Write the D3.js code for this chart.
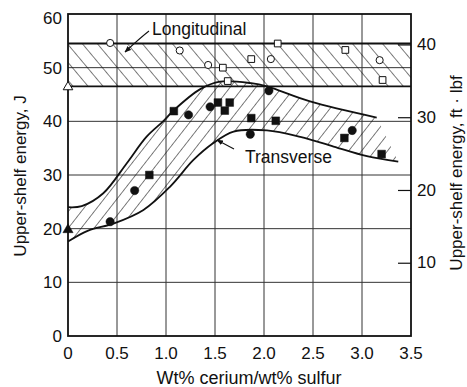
<!DOCTYPE html>
<html>
<head>
<meta charset="utf-8">
<script src="https://cdn.jsdelivr.net/npm/d3@7"></script>
<style>
  body { margin: 0; background: #fff; }
  text { font-family: "Liberation Sans", Arial, sans-serif; fill: #111; }
</style>
</head>
<body>
<div id="vis"></div>
<script>
// frame
const FRAME_WIDTH = 467;
const FRAME_HEIGHT = 387;
const MARGINS = {left: 68, right: 56, top: 14, bottom: 51};

// ticks
const xTicks = [0, 0.5, 1.0, 1.5, 2.0, 2.5, 3.0, 3.5];
const yTicks = [0, 10, 20, 30, 40, 50, 60];
const ftTicks = [10, 20, 30, 40];
const J_PER_FTLBF = 1.3558;

// longitudinal band (J)
const longBand = [46.5, 54.5];

// transverse band edges
const upperX = [0, 0.14, 0.36, 0.6, 0.8, 0.97, 1.07, 1.35, 1.55, 1.87, 2.03, 2.47, 3.15];
const upperJ = [24.0, 24.2, 26.6, 32.2, 37.1, 40.0, 41.9, 46.0, 47.4, 47.1, 46.5, 43.7, 40.7];
const lowerX = [0, 0.2, 0.47, 0.77, 1.04, 1.28, 1.48, 1.69, 2.03, 2.37, 2.71, 3.05, 3.37];
const lowerJ = [17.6, 19.6, 21.0, 23.5, 27.8, 32.8, 35.9, 38.1, 38.3, 37.1, 35.3, 33.5, 32.5];

// longitudinal data (open symbols)
const longCircleX = [0.43, 1.14, 1.43, 2.07, 3.18];
const longCircleJ = [54.6, 53.2, 50.5, 51.6, 51.4];
const longSquareX = [1.58, 1.63, 1.87, 2.14, 2.83, 3.21];
const longSquareJ = [50.0, 47.5, 51.6, 54.5, 53.3, 47.7];
const longTriX = [0];
const longTriJ = [46.4];

// transverse data (filled symbols)
const transCircleX = [0.43, 0.68, 1.23, 1.45, 1.86, 2.05, 2.90];
const transCircleJ = [21.3, 27.1, 41.2, 42.7, 37.6, 45.7, 38.3];
const transSquareX = [0.83, 1.08, 1.53, 1.60, 1.65, 1.87, 2.12, 2.82, 3.20];
const transSquareJ = [30.0, 41.9, 43.5, 42.0, 43.5, 40.6, 40.1, 36.9, 33.9];
const transTriX = [0];
const transTriJ = [19.8];

const zip = (xs, ys) => xs.map((v, i) => ({x: v, y: ys[i]}));

const svg = d3.select("#vis")
  .append("svg")
    .attr("width", FRAME_WIDTH)
    .attr("height", FRAME_HEIGHT);

const xScale = d3.scaleLinear()
  .domain([0, 3.5])
  .range([MARGINS.left, FRAME_WIDTH - MARGINS.right]);

const yScale = d3.scaleLinear()
  .domain([0, 60])
  .range([FRAME_HEIGHT - MARGINS.bottom, MARGINS.top]);

const yFt = d3.scaleLinear()
  .domain([0, 60 / J_PER_FTLBF])
  .range([FRAME_HEIGHT - MARGINS.bottom, MARGINS.top]);

const x0 = xScale(0), x1 = xScale(3.5);
const yb = yScale(0), yt = yScale(60);

// hatch patterns
const defs = svg.append("defs");
function hatch(id, spacing, angle) {
  const p = defs.append("pattern")
    .attr("id", id)
    .attr("patternUnits", "userSpaceOnUse")
    .attr("width", spacing)
    .attr("height", spacing)
    .attr("patternTransform", `rotate(${angle})`);
  p.append("line")
    .attr("x1", 0).attr("y1", -1)
    .attr("x2", 0).attr("y2", spacing + 1)
    .attr("stroke", "#111")
    .attr("stroke-width", 1.1);
}
hatch("hatchLong", 11.5, -40);
hatch("hatchTrans", 10.2, 38);

defs.append("marker")
  .attr("id", "arrow")
  .attr("viewBox", "0 0 10 10")
  .attr("refX", 9).attr("refY", 5)
  .attr("markerWidth", 6).attr("markerHeight", 6)
  .attr("orient", "auto")
  .append("path")
    .attr("d", "M0,1 L10,5 L0,9 Z")
    .attr("fill", "#111");

// gridlines
svg.append("g")
  .selectAll("line")
  .data(xTicks.slice(1, -1))
  .enter().append("line")
    .attr("x1", d => xScale(d)).attr("x2", d => xScale(d))
    .attr("y1", yb).attr("y2", yt)
    .attr("stroke", "#333").attr("stroke-width", 1);

svg.append("g")
  .selectAll("line")
  .data(yTicks.slice(1, -1))
  .enter().append("line")
    .attr("x1", x0).attr("x2", x1)
    .attr("y1", d => yScale(d)).attr("y2", d => yScale(d))
    .attr("stroke", "#333").attr("stroke-width", 1);

// longitudinal band
svg.append("rect")
  .attr("x", x0)
  .attr("y", yScale(longBand[1]))
  .attr("width", x1 - x0)
  .attr("height", yScale(longBand[0]) - yScale(longBand[1]))
  .attr("fill", "url(#hatchLong)");

svg.append("g")
  .selectAll("line")
  .data(longBand)
  .enter().append("line")
    .attr("x1", x0).attr("x2", x1)
    .attr("y1", d => yScale(d)).attr("y2", d => yScale(d))
    .attr("stroke", "#111").attr("stroke-width", 1.8);

// transverse band
const curve = d3.line()
  .x(d => xScale(d.x))
  .y(d => yScale(d.y))
  .curve(d3.curveCatmullRom.alpha(0.5));

const upperPts = zip(upperX, upperJ);
const lowerPts = zip(lowerX, lowerJ);
const upperPath = curve(upperPts);
const lowerRevPath = curve(lowerPts.slice().reverse());

svg.append("path")
  .attr("d", upperPath + "L" + lowerRevPath.slice(1) + "Z")
  .attr("fill", "url(#hatchTrans)");

svg.selectAll(".edge")
  .data([upperPts, lowerPts])
  .enter().append("path")
    .attr("class", "edge")
    .attr("d", curve)
    .attr("fill", "none")
    .attr("stroke", "#111")
    .attr("stroke-width", 1.8);

// frame
svg.append("rect")
  .attr("x", x0).attr("y", yt)
  .attr("width", x1 - x0).attr("height", yb - yt)
  .attr("fill", "none")
  .attr("stroke", "#111")
  .attr("stroke-width", 1.8);

// right-hand inward ticks (ft-lbf)
svg.append("g")
  .selectAll("line")
  .data(ftTicks)
  .enter().append("line")
    .attr("x1", x1 - 13).attr("x2", x1)
    .attr("y1", d => yFt(d)).attr("y2", d => yFt(d))
    .attr("stroke", "#111").attr("stroke-width", 1.2);

// symbols
const sym = (type, size) => d3.symbol().type(type).size(size);

function drawSymbols(pts, type, size, filled) {
  svg.append("g")
    .selectAll("path")
    .data(pts)
    .enter().append("path")
      .attr("transform", d => `translate(${xScale(d.x)},${yScale(d.y)})`)
      .attr("d", sym(type, size))
      .attr("fill", filled ? "#111" : "#fff")
      .attr("stroke", "#111")
      .attr("stroke-width", filled ? 0.5 : 1);
}

drawSymbols(zip(longCircleX, longCircleJ), d3.symbolCircle, 40, false);
drawSymbols(zip(longSquareX, longSquareJ), d3.symbolSquare, 45, false);
drawSymbols(zip(longTriX, longTriJ), d3.symbolTriangle, 40, false);
drawSymbols(zip(transCircleX, transCircleJ), d3.symbolCircle, 55, true);
drawSymbols(zip(transSquareX, transSquareJ), d3.symbolSquare, 60, true);
drawSymbols(zip(transTriX, transTriJ), d3.symbolTriangle, 45, true);

// tick labels
svg.append("g")
  .selectAll("text")
  .data(xTicks)
  .enter().append("text")
    .attr("x", d => xScale(d))
    .attr("y", yb + 23)
    .attr("text-anchor", "middle")
    .attr("font-size", 17)
    .text(d => d === 0 ? "0" : d.toFixed(1));

svg.append("g")
  .selectAll("text")
  .data(yTicks)
  .enter().append("text")
    .attr("x", x0 - 6)
    .attr("y", d => yScale(d) + (d === 60 ? 4 : 0))
    .attr("dy", "0.36em")
    .attr("text-anchor", "end")
    .attr("font-size", 17)
    .text(d => d);

svg.append("g")
  .selectAll("text")
  .data(ftTicks)
  .enter().append("text")
    .attr("x", x1 + 6)
    .attr("y", d => yFt(d) - 1)
    .attr("dy", "0.36em")
    .attr("text-anchor", "start")
    .attr("font-size", 17)
    .text(d => d);

// axis titles
svg.append("text")
  .attr("x", 249)
  .attr("y", 384)
  .attr("text-anchor", "middle")
  .attr("font-size", 18)
  .text("Wt% cerium/wt% sulfur");

svg.append("text")
  .attr("transform", "translate(20,176) rotate(-90)")
  .attr("dy", "0.36em")
  .attr("text-anchor", "middle")
  .attr("font-size", 17)
  .text("Upper-shelf energy, J");

svg.append("text")
  .attr("transform", "translate(456,173) rotate(-90)")
  .attr("dy", "0.36em")
  .attr("text-anchor", "middle")
  .attr("font-size", 17)
  .text("Upper-shelf energy, ft \u00b7 lbf");

// band labels with leaders
svg.append("text")
  .attr("x", 152).attr("y", 35)
  .attr("font-size", 17.5)
  .text("Longitudinal");

svg.append("path")
  .attr("d", "M149,31 Q140,38 125,52")
  .attr("fill", "none")
  .attr("stroke", "#111")
  .attr("stroke-width", 1.1)
  .attr("marker-end", "url(#arrow)");

svg.append("text")
  .attr("x", 245).attr("y", 163)
  .attr("font-size", 17.5)
  .text("Transverse");

svg.append("path")
  .attr("d", "M234,149 L217,140")
  .attr("fill", "none")
  .attr("stroke", "#111")
  .attr("stroke-width", 1.1)
  .attr("marker-end", "url(#arrow)");
</script>
</body>
</html>
